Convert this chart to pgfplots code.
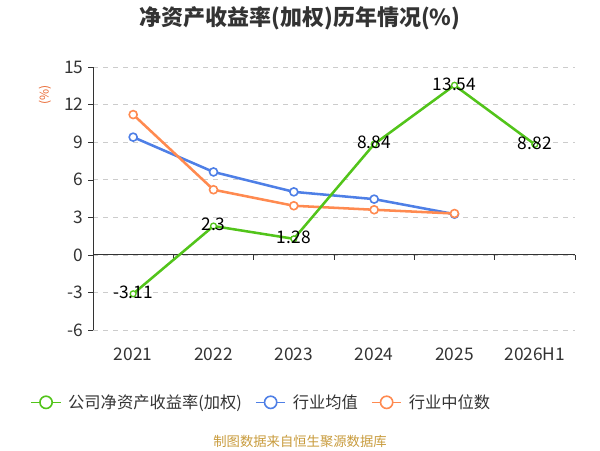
\documentclass[border=0pt]{standalone}
\usepackage{fontspec}
\setmainfont{Noto Sans CJK SC}
\usepackage{pgfplots}
\pgfplotsset{compat=1.18}
\definecolor{cgreen}{HTML}{52C41A}
\definecolor{cblue}{HTML}{4E7FE6}
\definecolor{corange}{HTML}{FF8A50}
\definecolor{ctext}{HTML}{333333}
\definecolor{cgrid}{HTML}{CCCCCC}
\definecolor{cfoot}{HTML}{C89B3C}
\definecolor{cunit}{HTML}{E8632B}
\begin{document}
\begin{tikzpicture}
\useasboundingbox (0pt,0pt) rectangle (450pt,337.5pt);
\node[font=\fontsize{16.5}{19}\selectfont\bfseries, text=ctext] at (225pt,323.5pt) {净资产收益率(加权)历年情况(\%)};
\node[font=\fontsize{10}{12}\selectfont, text=cfoot] at (225pt,6.75pt) {制图数据来自恒生聚源数据库};
\node[font=\fontsize{9}{11}\selectfont, text=cunit, rotate=90] at (33.75pt,266.25pt) {(\%)};
\begin{axis}[
  at={(69.75pt,90pt)}, anchor=south west,
  scale only axis, width=361.5pt, height=197.25pt,
  xmin=-0.5, xmax=5.5, ymin=-6, ymax=15,
  ytick={-6,-3,...,15},
  xtick={0,...,5}, xticklabels={2021,2022,2023,2024,2025,2026H1},
  axis lines*=left, axis line style={-, draw=ctext},
  x axis line style={draw=none},
  xtick style={draw=none},
  ytick style={draw=ctext},
  tick align=outside, major tick length=3.75pt,
  ymajorgrids, grid style={cgrid, dash pattern=on 3.75pt off 3.75pt},
  tick label style={font=\fontsize{13}{15}\selectfont, text=ctext},
  /pgf/number format/assume math mode=true,
  xticklabel style={yshift=-6pt},
  clip=false,
  legend columns=3,
  legend style={at={(0.35,-0.275)}, anchor=center, draw=none, fill=none,
    font=\fontsize{12.2}{14}\selectfont, text=ctext,
    /tikz/every odd column/.append style={column sep=3pt},
    /tikz/every even column/.append style={column sep=8pt}},
  legend image code/.code={
    \draw[#1, mark=none, line width=1.2pt] (0pt,0pt) -- (22pt,0pt);
    \draw[#1, mark=none, fill=white, line width=1.2pt] (11pt,0pt) circle (4.6pt);
  },
]
\addlegendimage{cgreen}
\addlegendentry{公司净资产收益率(加权)}
\addlegendimage{cblue}
\addlegendentry{行业均值}
\addlegendimage{corange}
\addlegendentry{行业中位数}
\draw[ctext, line width=0.75pt] (axis cs:-0.5,0) -- (axis cs:5.5,0);
\pgfplotsinvokeforeach{-0.5,0.5,1.5,2.5,3.5,4.5,5.5}{
  \draw[ctext, line width=0.75pt] (axis cs:#1,0) -- ([yshift=-3.75pt]axis cs:#1,0);
}
\addplot[cblue, line width=1.9pt, mark=*, mark size=3pt, mark options={fill=white, line width=1.2pt}, forget plot]
  coordinates {(0,9.4) (1,6.62) (2,5.03) (3,4.45) (4,3.25)};
\addplot[corange, line width=1.9pt, mark=*, mark size=3pt, mark options={fill=white, line width=1.2pt}, forget plot]
  coordinates {(0,11.2) (1,5.2) (2,3.92) (3,3.6) (4,3.3)};
\addplot[cgreen, line width=1.9pt, mark=*, mark size=2.2pt, mark options={fill=white, line width=1pt}, forget plot,
  nodes near coords, point meta=explicit symbolic,
  every node near coord/.style={anchor=center, yshift=1pt, font=\fontsize{13}{15}\selectfont, text=black}]
  coordinates {(0,-3.11)[-3.11] (1,2.3)[2.3] (2,1.28)[1.28] (3,8.84)[8.84] (4,13.54)[13.54] (5,8.82)[8.82]};
\end{axis}
\end{tikzpicture}
\end{document}
